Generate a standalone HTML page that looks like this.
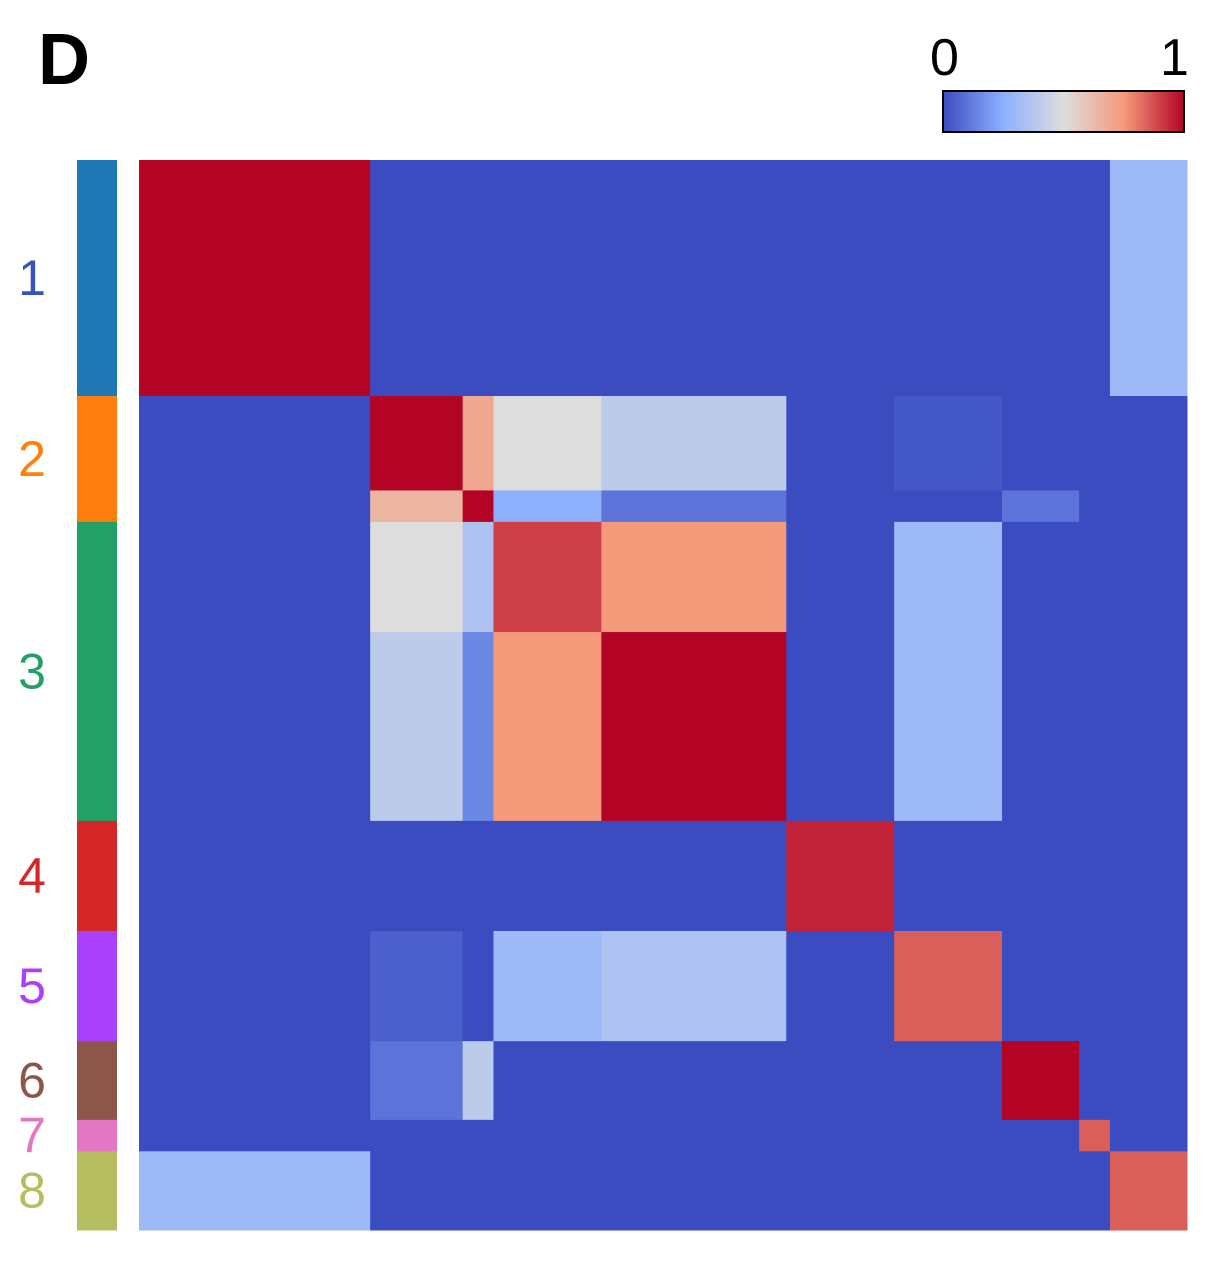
<!DOCTYPE html>
<html><head><meta charset="utf-8">
<style>
body{margin:0;background:#fff;width:1208px;height:1272px;overflow:hidden;font-family:"Liberation Sans",sans-serif;}
</style></head>
<body>
<svg id="chart" width="1208" height="1272" xmlns="http://www.w3.org/2000/svg">
<defs>
<linearGradient id="cbg" x1="0" x2="1" y1="0" y2="0">
<stop offset="0" stop-color="#3b4cc0"/><stop offset="0.25" stop-color="#8db0fe"/>
<stop offset="0.5" stop-color="#dddddd"/><stop offset="0.75" stop-color="#f49a7b"/>
<stop offset="1" stop-color="#b40426"/></linearGradient>
</defs>
<text x="38" y="84" font-size="72" font-weight="bold">D</text>
<text x="930" y="75" font-size="52">0</text>
<text x="1160" y="75" font-size="52">1</text>
<rect x="943" y="91" width="241" height="41" fill="url(#cbg)" stroke="#000" stroke-width="2"/>
<g id="cells"></g>
<g id="side"></g>
</svg>
<script>
const clusterLabels = ["1","2","3","4","5","6","7","8"];
const clusterColors = ["#1f77b4","#ff7f0e","#23a068","#d62728","#aa40fc","#8c564b","#e377c2","#b5bd61"];
const labelColors = ["#3a52c0","#ff7f0e","#23a068","#d62728","#aa40fc","#8c564b","#e377c2","#b5bd61"];
const clusterSizes = [15,8,19,7,7,5,2,5];
const segmentSizes = [15,6,2,7,12,7,7,5,2,5];
const blockValues = [
 [1.0,0,0,0,0,0,0,0,0,0.3],
 [0,1.0,0.7,0.5,0.4,0,0.03,0,0,0],
 [0,0.65,1.0,0.25,0.1,0,0,0.1,0,0],
 [0,0.5,0.35,0.9,0.75,0,0.3,0,0,0],
 [0,0.4,0.15,0.75,1.0,0,0.3,0,0,0],
 [0,0,0,0,0,0.95,0,0,0,0],
 [0,0.05,0,0.3,0.35,0,0.85,0,0,0],
 [0,0.1,0.4,0,0,0,0,1.0,0,0],
 [0,0,0,0,0,0,0,0,0.85,0],
 [0.3,0,0,0,0,0,0,0,0,0.85]
];
const X0=139,X1=1187,Y0=160,Y1=1230;
const N = segmentSizes.reduce((a,b)=>a+b,0);
const cw=(X1-X0)/N, ch=(Y1-Y0)/N;
const stops=[[0,[59,76,192]],[0.25,[141,176,254]],[0.5,[221,221,221]],[0.75,[244,154,123]],[1,[180,4,38]]];
function cmap(v){v=Math.max(0,Math.min(1,v));for(let i=1;i<stops.length;i++){if(v<=stops[i][0]){const a=stops[i-1],b=stops[i];const t=(v-a[0])/(b[0]-a[0]);const c=a[1].map((x,k)=>Math.round(x+(b[1][k]-x)*t));return `rgb(${c.join(",")})`;}}}
const NS="http://www.w3.org/2000/svg";
const cells=document.getElementById('cells');
let r0=0;
segmentSizes.forEach((rs,ri)=>{let c0=0;segmentSizes.forEach((cs,ci)=>{
  const el=document.createElementNS(NS,'rect');
  
  
  el.setAttribute('x',X0+c0*cw);el.setAttribute('y',Y0+r0*ch);
  el.setAttribute('width',cs*cw+0.5);el.setAttribute('height',rs*ch+0.5);
  el.setAttribute('fill',cmap(blockValues[ri][ci]));
  cells.appendChild(el);c0+=cs;});r0+=rs;});
const side=document.getElementById('side');
let k=0;
clusterSizes.forEach((s,i)=>{
  const el=document.createElementNS(NS,'rect');
  
  
  el.setAttribute('x',77);el.setAttribute('y',Y0+k*ch);el.setAttribute('width',40);el.setAttribute('height',s*ch+0.5);
  el.setAttribute('fill',clusterColors[i]);side.appendChild(el);
  const t=document.createElementNS(NS,'text');
  
  
  t.setAttribute('x',32);t.setAttribute('y',Y0+(k+s/2)*ch+17);t.setAttribute('text-anchor','middle');
  t.setAttribute('font-size','50');t.setAttribute('fill',labelColors[i]);t.textContent=clusterLabels[i];
  side.appendChild(t);k+=s;});
</script>
</body></html>
